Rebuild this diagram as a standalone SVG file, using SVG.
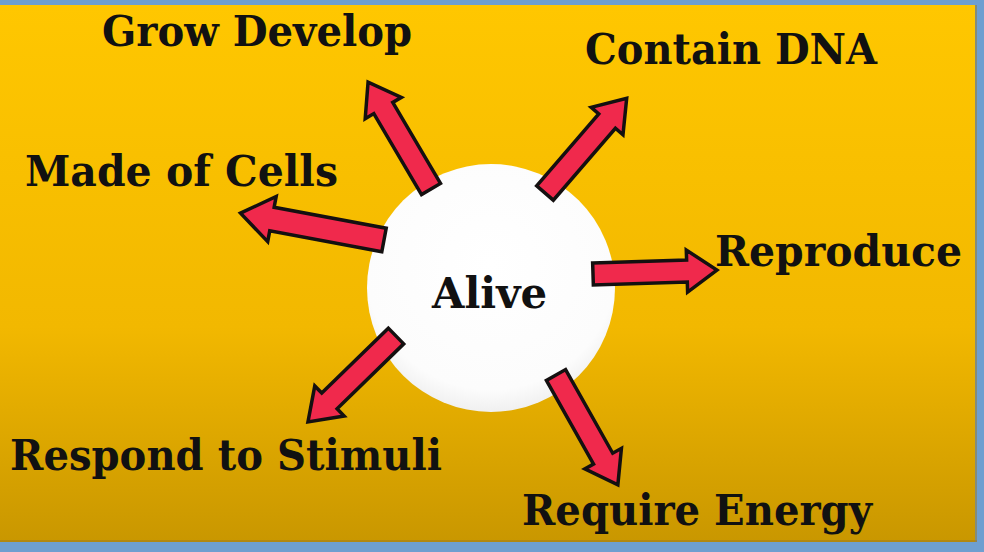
<svg xmlns="http://www.w3.org/2000/svg" width="984" height="552" viewBox="0 0 984 552">
  <defs>
    <linearGradient id="bg" x1="0" y1="0" x2="0" y2="1">
      <stop offset="0" stop-color="#FFC700"/>
      <stop offset="0.6" stop-color="#F2B800"/>
      <stop offset="1" stop-color="#C99700"/>
    </linearGradient>
    <radialGradient id="disc" cx="0.5" cy="0.4" r="0.6">
      <stop offset="0" stop-color="#FFFFFF"/>
      <stop offset="0.85" stop-color="#FCFCFC"/>
      <stop offset="1" stop-color="#F0F0F0"/>
    </radialGradient>
    <style>
      .lbl { font-family: "DejaVu Serif", "Liberation Serif", serif; font-weight: bold; font-size: 43px; fill: #111111; }
      .arrow { fill: #F0294C; stroke: #141010; stroke-width: 3.5; stroke-linejoin: miter; }
    </style>
  </defs>

  <rect x="0" y="0" width="984" height="552" fill="#6E9FD0"/>
  <rect x="0" y="5" width="975" height="537" fill="url(#bg)"/>
  <rect x="975" y="5" width="2" height="537" fill="#9C7A20" opacity="0.5"/>
  <rect x="0" y="540" width="977" height="2" fill="#9C7A20" opacity="0.5"/>

  <g id="node-alive">
    <circle cx="491" cy="288" r="124" fill="url(#disc)"/>
    <text class="lbl" x="432" y="308" textLength="115" lengthAdjust="spacingAndGlyphs">Alive</text>
  </g>

  <g id="connectors">
    <path class="arrow" transform="translate(431,189) rotate(-120.5)" d="M0,-11 L94,-11 L94,-21 L124,0 L94,21 L94,11 L0,11 Z"/>
    <path class="arrow" transform="translate(545,193) rotate(-49.2)" d="M0,-11 L95,-11 L95,-21 L125,0 L95,21 L95,11 L0,11 Z"/>
    <path class="arrow" transform="translate(384,240) rotate(-169.4)" d="M0,-12 L114,-12 L114,-23 L146,0 L114,23 L114,12 L0,12 Z"/>
    <path class="arrow" transform="translate(593,274) rotate(-1.8)" d="M0,-11 L94,-11 L94,-21 L124,0 L94,21 L94,11 L0,11 Z"/>
    <path class="arrow" transform="translate(396,336) rotate(135.7)" d="M0,-11 L93,-11 L93,-21 L123,0 L93,21 L93,11 L0,11 Z"/>
    <path class="arrow" transform="translate(556,375) rotate(60.6)" d="M0,-11 L96,-11 L96,-21 L126,0 L96,21 L96,11 L0,11 Z"/>
  </g>

  <g id="node-grow-develop">
    <text class="lbl" x="102" y="46" textLength="310" lengthAdjust="spacingAndGlyphs">Grow Develop</text>
  </g>
  <g id="node-contain-dna">
    <text class="lbl" x="585" y="64" textLength="292" lengthAdjust="spacingAndGlyphs">Contain DNA</text>
  </g>
  <g id="node-made-of-cells">
    <text class="lbl" x="25" y="186" textLength="313" lengthAdjust="spacingAndGlyphs">Made of Cells</text>
  </g>
  <g id="node-reproduce">
    <text class="lbl" x="715" y="266" textLength="247" lengthAdjust="spacingAndGlyphs">Reproduce</text>
  </g>
  <g id="node-respond-to-stimuli">
    <text class="lbl" x="10" y="470" textLength="432" lengthAdjust="spacingAndGlyphs">Respond to Stimuli</text>
  </g>
  <g id="node-require-energy">
    <text class="lbl" x="522" y="525" textLength="350" lengthAdjust="spacingAndGlyphs">Require Energy</text>
  </g>
</svg>
